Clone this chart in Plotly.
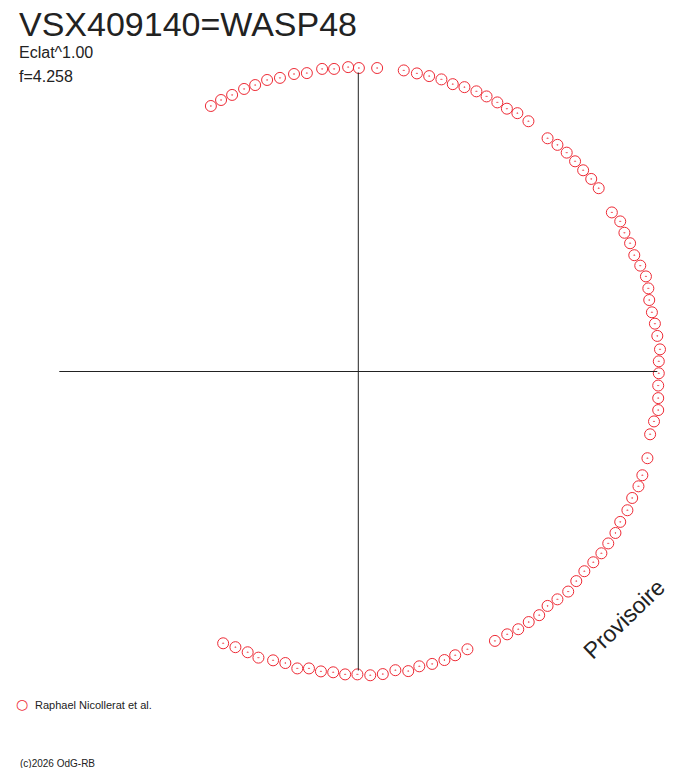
import plotly.graph_objects as go

# Diagramme de phase : composantes cos / sin (rayon ~ Eclat^1.00, normalise)
x_vals = [
    -0.493, -0.459, -0.422, -0.382, -0.345, -0.305, -0.262, -0.215, -0.172, -0.121,
    -0.081, -0.034, 0.002, 0.063, 0.152, 0.196, 0.237, 0.278, 0.316, 0.355,
    0.395, 0.429, 0.465, 0.497, 0.532, 0.569, 0.633, 0.666, 0.697, 0.725,
    0.752, 0.779, 0.804, 0.848, 0.876, 0.890, 0.909, 0.923, 0.943, 0.962,
    0.970, 0.973, 0.982, 0.992, 1.000, 1.009, 1.005, 1.005, 1.003, 1.003,
    1.003, 0.989, 0.976, 0.967, 0.950, 0.937, 0.916, 0.900, 0.876, 0.860,
    0.836, 0.813, 0.786, 0.756, 0.729, 0.702, 0.666, 0.633, 0.605, 0.570,
    0.535, 0.498, 0.457, 0.365, 0.324, 0.288, 0.247, 0.204, 0.167, 0.124,
    0.082, 0.040, -0.003, -0.044, -0.084, -0.125, -0.165, -0.204, -0.244, -0.285,
    -0.334, -0.370, -0.411, -0.452,
]
y_vals = [
    0.888, 0.908, 0.925, 0.945, 0.958, 0.975, 0.982, 0.995, 0.998, 1.012,
    1.012, 1.018, 1.015, 1.015, 1.007, 0.997, 0.988, 0.977, 0.961, 0.951,
    0.937, 0.920, 0.900, 0.879, 0.864, 0.837, 0.780, 0.758, 0.732, 0.703,
    0.673, 0.644, 0.613, 0.532, 0.502, 0.464, 0.429, 0.389, 0.354, 0.318,
    0.278, 0.239, 0.198, 0.160, 0.119, 0.074, 0.034, -0.006, -0.047, -0.089,
    -0.129, -0.167, -0.210, -0.290, -0.347, -0.384, -0.423, -0.464, -0.503, -0.540,
    -0.575, -0.608, -0.638, -0.668, -0.701, -0.736, -0.762, -0.784, -0.815, -0.838,
    -0.862, -0.879, -0.901, -0.929, -0.949, -0.965, -0.978, -0.986, -1.002, -0.999,
    -1.012, -1.016, -1.013, -1.013, -1.006, -1.003, -0.993, -0.993, -0.975, -0.966,
    -0.957, -0.939, -0.922, -0.909,
]

titre = "VSX409140=WASP48"
sous_titres = ["Eclat^1.00", "f=4.258"]
observateur = "Raphael Nicollerat et al."
copyright_txt = "(c)2026 OdG-RB"
rouge = "#ee2a35"
gris = "#222222"

fig = go.Figure()

# axes en croix
fig.add_shape(type="line", x0=-1, x1=1, y0=0, y1=0, line=dict(color=gris, width=1))
fig.add_shape(type="line", x0=0, x1=0, y0=-1, y1=1, line=dict(color=gris, width=1))

fig.add_trace(go.Scatter(
    x=x_vals, y=y_vals, mode="markers", name=observateur,
    marker=dict(symbol="circle-open-dot", size=11, color=rouge, line=dict(width=1, color=rouge)),
))


def texte(px, py, txt, taille, couleur=gris, xa="left", ya="middle", angle=0, police="Liberation Sans"):
    # position en pixels -> coordonnees papier (marges nulles)
    fig.add_annotation(x=px / 688, y=1 - py / 768, xref="paper", yref="paper", text=txt,
                       showarrow=False, xanchor=xa, yanchor=ya, textangle=angle,
                       font=dict(size=taille, color=couleur, family=police))


texte(17, 3, titre, 34, ya="top")
texte(17, 42, sous_titres[0], 16, ya="top")
texte(17, 66, sous_titres[1], 16, ya="top")

# legende faite a la main (petit cercle + texte)
texte(22, 704, "○", 14, couleur=rouge, xa="center", police="DejaVu Sans")
texte(33, 705, observateur, 11)
texte(18, 763, copyright_txt, 10)

texte(624, 619, "Provisoire", 23, xa="center", angle=-44)

fig.update_layout(
    width=688, height=768,
    margin=dict(l=0, r=0, t=0, b=0),
    paper_bgcolor="white", plot_bgcolor="white",
    showlegend=False,
    xaxis=dict(range=[-358.3 / 299, (688 - 358.3) / 299], visible=False, fixedrange=True),
    yaxis=dict(range=[(371.5 - 768) / 299, 371.5 / 299], visible=False, fixedrange=True),
)

fig.write_html("out.html", config={"displayModeBar": False},
               post_script="document.body.style.margin='0';")
